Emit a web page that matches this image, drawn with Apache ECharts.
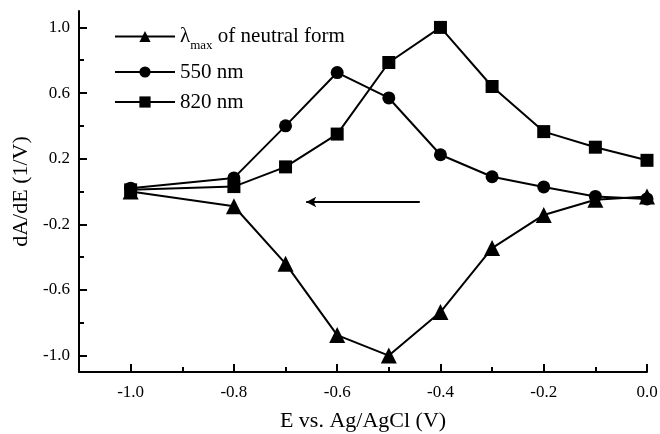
<!DOCTYPE html>
<html>
<head>
<meta charset="utf-8">
<script src="https://cdn.jsdelivr.net/npm/echarts@6/dist/echarts.min.js"></script>
<style>
  html, body { margin: 0; padding: 0; background: #fff; }
  #chart { width: 660px; height: 434px; }
</style>
</head>
<body>
<div id="chart"></div>
<script>
// potential (V) for each measurement
var potentials = [-1.0, -0.8, -0.7, -0.6, -0.5, -0.4, -0.3, -0.2, -0.1, 0.0];

// dA/dE values
var neutralForm = [0.0, -0.09, -0.44, -0.875, -1.0, -0.735, -0.345, -0.143, -0.05, -0.03];
var nm550 = [0.02, 0.083, 0.40, 0.725, 0.57, 0.224, 0.09, 0.028, -0.03, -0.045];
var nm820 = [0.01, 0.03, 0.15, 0.35, 0.786, 1.0, 0.64, 0.365, 0.27, 0.19];

var seriesNames = ['neutral', '550 nm', '820 nm'];

// tick labels
var xMajorTicks = [-1.0, -0.8, -0.6, -0.4, -0.2, 0.0];
var xMinorTicks = [-0.9, -0.7, -0.5, -0.3, -0.1];
var yMajorTicks = [-1.0, -0.6, -0.2, 0.2, 0.6, 1.0];
var yMinorTicks = [-0.8, -0.4, 0.0, 0.4, 0.8];

// scan direction arrow (from, to)
var arrowFrom = [-0.44, -0.064];
var arrowTo = [-0.66, -0.064];

(function(echarts, window, document, undefined) {
    var font = '"Liberation Serif", "Times New Roman", serif';
    var black = '#000';

    var toPairs = function(vals) {
        return potentials.map(function(x, i) { return [x, vals[i]]; });
    };

    var makeSerie = function(name, vals, symbol, size) {
        return {
            name: name,
            type: 'line',
            xAxisIndex: 0,
            yAxisIndex: 0,
            data: toPairs(vals),
            symbol: symbol,
            symbolSize: size,
            showAllSymbol: true,
            lineStyle: { color: black, width: 2 },
            itemStyle: { color: black, borderWidth: 0 },
            emphasis: { disabled: true },
            z: 3
        };
    };

    var fmt = function(v) { return (Math.round(v * 10) / 10).toFixed(1); };

    var chart = echarts.init(document.getElementById('chart'), null, { renderer: 'canvas' });

    var series = [
        makeSerie(seriesNames[0], neutralForm, 'triangle', 16),
        makeSerie(seriesNames[1], nm550, 'circle', 13),
        makeSerie(seriesNames[2], nm820, 'rect', 13)
    ];

    series[0].markLine = {
        silent: true,
        symbol: ['none', 'arrow'],
        symbolSize: [8, 10],
        label: { show: false },
        lineStyle: { color: black, width: 2, type: 'solid' },
        data: [[{ coord: arrowFrom }, { coord: arrowTo }]]
    };

    var option = {
        animation: false,
        backgroundColor: '#fff',
        textStyle: { fontFamily: font, color: black },
        grid: { left: 79, right: 13, top: 11, bottom: 62, containLabel: false, outerBoundsMode: 'none' },
        legend: {
            orient: 'vertical',
            left: 109,
            top: 21,
            itemWidth: 60,
            itemHeight: 14,
            itemGap: 9,
            data: seriesNames,
            textStyle: {
                fontFamily: font,
                fontSize: 21,
                color: black,
                rich: {
                    l: { fontFamily: font, fontSize: 21, color: black },
                    sub: { fontFamily: font, fontSize: 13, color: black, verticalAlign: 'bottom', lineHeight: 32 }
                }
            },
            formatter: function(name) {
                if (name === 'neutral') {
                    return '{l|λ}{sub|max}{l| of neutral form}';
                }
                return name;
            }
        },
        xAxis: [{
            type: 'value',
            min: -1.1,
            max: 0,
            name: 'E vs. Ag/AgCl (V)',
            nameLocation: 'middle',
            nameGap: 38,
            nameTextStyle: { fontFamily: font, fontSize: 22, color: black },
            axisLine: { show: true, onZero: false, lineStyle: { color: black, width: 2 } },
            axisTick: { show: true, inside: true, length: 8, customValues: xMajorTicks, lineStyle: { color: black, width: 2 } },
            axisLabel: { customValues: xMajorTicks, formatter: fmt, fontFamily: font, fontSize: 17, color: black, margin: 12 },
            splitLine: { show: false }
        }, {
            type: 'value',
            min: -1.1,
            max: 0,
            position: 'bottom',
            axisLine: { show: false, onZero: false },
            axisTick: { show: true, inside: true, length: 5, customValues: xMinorTicks, lineStyle: { color: black, width: 2 } },
            axisLabel: { show: false },
            splitLine: { show: false }
        }],
        yAxis: [{
            type: 'value',
            min: -1.1,
            max: 1.1,
            name: 'dA/dE (1/V)',
            nameLocation: 'middle',
            nameGap: 46,
            nameRotate: 90,
            nameTextStyle: { fontFamily: font, fontSize: 22, color: black },
            axisLine: { show: true, onZero: false, lineStyle: { color: black, width: 2 } },
            axisTick: { show: true, inside: true, length: 8, customValues: yMajorTicks, lineStyle: { color: black, width: 2 } },
            axisLabel: { customValues: yMajorTicks, formatter: fmt, fontFamily: font, fontSize: 17, color: black, margin: 9 },
            splitLine: { show: false }
        }, {
            type: 'value',
            min: -1.1,
            max: 1.1,
            position: 'left',
            axisLine: { show: false, onZero: false },
            axisTick: { show: true, inside: true, length: 5, customValues: yMinorTicks, lineStyle: { color: black, width: 2 } },
            axisLabel: { show: false },
            splitLine: { show: false }
        }],
        series: series
    };

    chart.setOption(option);
})(window.echarts, window, document);
</script>
</body>
</html>
